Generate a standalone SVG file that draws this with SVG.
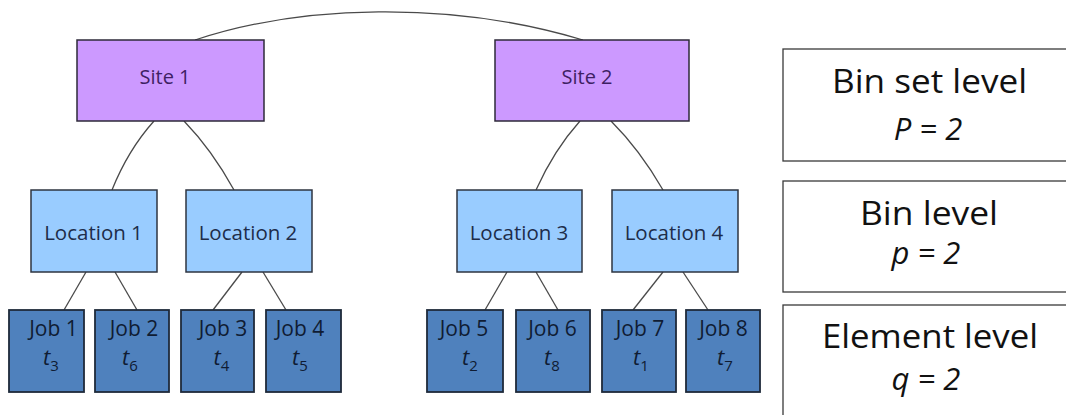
<svg xmlns="http://www.w3.org/2000/svg" width="1066" height="415" viewBox="0 0 1066 415">
<style>
.site{fill:#CC99FF;stroke:#2E2A3A;stroke-width:1.5}
.loc{fill:#99CCFF;stroke:#2E3440;stroke-width:1.5}
.job{fill:#4F81BD;stroke:#1E2A3A;stroke-width:1.8}
.lvl{fill:#ffffff;stroke:#3a3a3a;stroke-width:1.3}
.conn{fill:none;stroke:#4a4a4a;stroke-width:1.3}
text{font-family:"Open Sans","DejaVu Sans",sans-serif;text-anchor:middle}
.ts{font-size:20px;fill:#3E1F63}
.tl{font-size:20.5px;fill:#1E2D4A}
.tj{font-size:21px;fill:#0F1C33}
.tt{font-size:22px;fill:#0F1C33;font-style:italic}
.sub{font-size:15px;font-style:normal}
.big{font-size:32px;fill:#111111}
.bigi{font-size:31px;fill:#111111;font-style:italic}
</style>
<g id="connectors">
<path class="conn" d="M195,40 C300,5 450,0 583,40"/>
<path class="conn" d="M154,121 Q128,150 112,190"/>
<path class="conn" d="M184,121 Q212,150 234,190"/>
<path class="conn" d="M580,121 Q554,150 536,190"/>
<path class="conn" d="M611,121 Q640,150 663,190"/>
<path class="conn" d="M86,272 L64,310"/>
<path class="conn" d="M115,272 L137,310"/>
<path class="conn" d="M242,272 L213,310"/>
<path class="conn" d="M263,272 L286,310"/>
<path class="conn" d="M507,272 L485,310"/>
<path class="conn" d="M536,272 L558,310"/>
<path class="conn" d="M663,272 L633,310"/>
<path class="conn" d="M683,272 L708,310"/>
</g>
<g id="site1"><rect class="site" x="77" y="40" width="187" height="81"/><text class="ts" x="165" y="84">Site 1</text></g>
<g id="site2"><rect class="site" x="495" y="40" width="194" height="81"/><text class="ts" x="587" y="84">Site 2</text></g>
<g id="loc1"><rect class="loc" x="31" y="190" width="126" height="82"/><text class="tl" x="93.5" y="240">Location 1</text></g>
<g id="loc2"><rect class="loc" x="186" y="190" width="126" height="82"/><text class="tl" x="248" y="240">Location 2</text></g>
<g id="loc3"><rect class="loc" x="457" y="190" width="125" height="82"/><text class="tl" x="519" y="240">Location 3</text></g>
<g id="loc4"><rect class="loc" x="612" y="190" width="126" height="82"/><text class="tl" x="674" y="240">Location 4</text></g>
<g id="job1"><rect class="job" x="9" y="310" width="75" height="82"/><text class="tj" x="53.5" y="336">Job 1</text><text class="tt" x="51" y="365">t<tspan class="sub" dy="6">3</tspan></text></g>
<g id="job2"><rect class="job" x="95" y="310" width="74" height="82"/><text class="tj" x="134" y="336">Job 2</text><text class="tt" x="130" y="365">t<tspan class="sub" dy="6">6</tspan></text></g>
<g id="job3"><rect class="job" x="181" y="310" width="73" height="82"/><text class="tj" x="223" y="336">Job 3</text><text class="tt" x="221.5" y="365">t<tspan class="sub" dy="6">4</tspan></text></g>
<g id="job4"><rect class="job" x="266" y="310" width="75" height="82"/><text class="tj" x="300" y="336">Job 4</text><text class="tt" x="300" y="365">t<tspan class="sub" dy="6">5</tspan></text></g>
<g id="job5"><rect class="job" x="427" y="310" width="76" height="82"/><text class="tj" x="464" y="336">Job 5</text><text class="tt" x="470" y="365">t<tspan class="sub" dy="6">2</tspan></text></g>
<g id="job6"><rect class="job" x="516" y="310" width="74" height="82"/><text class="tj" x="552.5" y="336">Job 6</text><text class="tt" x="552" y="365">t<tspan class="sub" dy="6">8</tspan></text></g>
<g id="job7"><rect class="job" x="602" y="310" width="74" height="82"/><text class="tj" x="640" y="336">Job 7</text><text class="tt" x="641" y="365">t<tspan class="sub" dy="6">1</tspan></text></g>
<g id="job8"><rect class="job" x="686" y="310" width="74" height="82"/><text class="tj" x="723.5" y="336">Job 8</text><text class="tt" x="725" y="365">t<tspan class="sub" dy="6">7</tspan></text></g>
<g id="level1"><rect class="lvl" x="783" y="49" width="292" height="112"/><text class="big" x="929.5" y="93" textLength="195" lengthAdjust="spacingAndGlyphs">Bin set level</text><text class="bigi" x="928" y="140">P = 2</text></g>
<g id="level2"><rect class="lvl" x="783" y="181" width="292" height="111"/><text class="big" x="929" y="225" textLength="138" lengthAdjust="spacingAndGlyphs">Bin level</text><text class="bigi" x="926" y="264">p = 2</text></g>
<g id="level3"><rect class="lvl" x="783" y="305" width="292" height="130"/><text class="big" x="930" y="348" textLength="216" lengthAdjust="spacingAndGlyphs">Element level</text><text class="bigi" x="926" y="390">q = 2</text></g>
</svg>
